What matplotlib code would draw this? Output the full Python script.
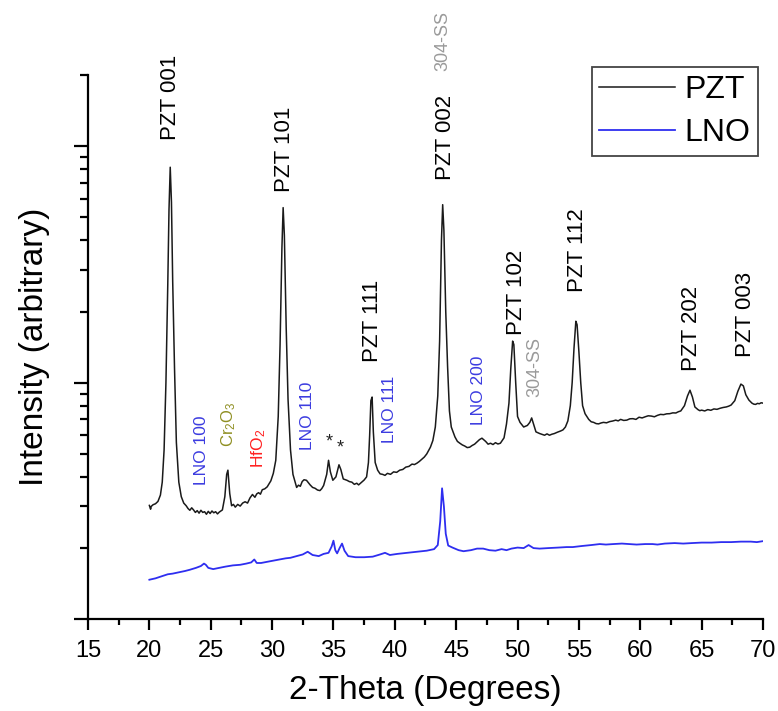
import matplotlib
matplotlib.use("Agg")
import matplotlib.pyplot as plt
from matplotlib.ticker import MultipleLocator, LogLocator, NullFormatter

plt.rcParams['font.family'] = ['Liberation Sans', 'DejaVu Sans']
plt.rcParams['mathtext.fontset'] = 'custom'
plt.rcParams['mathtext.rm'] = 'Liberation Sans'
plt.rcParams['mathtext.it'] = 'Liberation Sans'

# PZT film pattern (2-theta, intensity)
pzt_theta = [20.0, 20.1, 20.15, 20.3, 20.5, 20.7, 20.9, 21.05, 21.2, 21.35, 21.5, 21.6, 21.7,
             21.8, 21.9, 22.05, 22.2, 22.4, 22.6, 22.8, 23.0, 23.15, 23.3, 23.45, 23.6, 23.75,
             23.9, 24.05, 24.2, 24.35, 24.5, 24.65, 24.8, 24.95, 25.1, 25.25, 25.4, 25.55,
             25.7, 25.95, 26.15, 26.3, 26.4, 26.55, 26.7, 26.85, 27.0, 27.2,
             27.4, 27.6, 27.8, 28.0, 28.2, 28.4, 28.6, 28.75, 28.9, 29.05, 29.2, 29.4, 29.6,
             29.9, 30.1, 30.3, 30.5,
             30.65, 30.8, 30.9, 31.0, 31.15, 31.3, 31.5, 31.7, 32.0, 32.15, 32.3, 32.45, 32.6,
             32.8, 33.0, 33.1, 33.3, 33.5, 33.7, 33.9, 34.05, 34.2, 34.45, 34.6, 34.75, 34.95,
             35.2, 35.45, 35.6, 35.8,
             36.1, 36.3, 36.5, 36.7, 36.9, 37.05, 37.2, 37.5, 37.7, 37.85, 37.95, 38.05,
             38.15, 38.25, 38.4, 38.6, 38.8, 39.0, 39.2, 39.4, 39.65, 39.9, 40.15, 40.4,
             40.65, 40.9, 41.15, 41.4, 41.6, 41.8, 42.0, 42.2, 42.4, 42.6, 42.9, 43.1,
             43.3, 43.5, 43.65, 43.8, 43.9, 44.0, 44.15, 44.3, 44.45, 44.6, 44.9, 45.1,
             45.3, 45.5, 45.7, 45.9, 46.1, 46.3, 46.5, 46.7, 46.9, 47.1, 47.4, 47.6, 47.8,
             48.0, 48.2, 48.4, 48.6, 48.9, 49.1, 49.3,
             49.45, 49.6, 49.7, 49.85, 50.0, 50.2, 50.5, 50.8, 51.0, 51.15, 51.3, 51.5,
             51.8, 52.0, 52.2, 52.4, 52.6, 52.8, 53.0, 53.25, 53.5, 53.7, 53.9, 54.1,
             54.3, 54.45, 54.6, 54.75, 54.85,
             55.0, 55.15, 55.3, 55.5, 55.8, 56.0, 56.2, 56.4, 56.6, 56.8, 57.0, 57.25,
             57.5, 57.75, 58.0, 58.2, 58.4, 58.65, 58.9, 59.15,
             59.4, 59.65, 59.9, 60.15, 60.4, 60.65, 60.9, 61.15, 61.4, 61.65, 61.9, 62.15,
             62.4, 62.65, 62.9, 63.1, 63.3, 63.6, 63.85, 64.05,
             64.25, 64.45, 64.7, 64.85, 65.0, 65.25, 65.5, 65.75, 66.0, 66.25, 66.5, 66.75,
             67.0, 67.2, 67.4, 67.7, 67.95, 68.2,
             68.4, 68.6, 68.85, 69.1, 69.25, 69.4, 69.55, 69.7, 69.85, 70.0]
pzt_int = [30.3, 29.2, 30.0, 30.5, 30.8, 31.5, 33.5, 38, 52, 100, 260, 540, 815,
           580, 270, 115, 56, 38, 33, 31, 30.2, 29.4, 28.9, 29.6, 29.0, 28.3,
           28.8, 28.1, 28.9, 28.3, 28.5, 27.8, 28.6, 28.0, 28.7, 28.2, 28.5, 27.9,
           28.4, 29.0, 33, 41, 42.7, 34, 30.2, 30.6, 29.8, 30.6,
           30.1, 31.0, 31.4, 31.0, 32.6, 33.7, 32.8, 33.9, 34.3, 33.8, 35.3, 35.6, 36.3,
           38.5, 41.4, 47, 72,
           145, 370, 550, 420, 170, 85, 52, 41, 36.1, 36.9, 36.5, 38.2, 38.9,
           38.7, 37.6, 37.0, 36.1, 35.8, 35.2, 35.0, 35.7, 36.8, 41, 47, 42, 38.7,
           40.0, 45.0, 43, 39.2,
           38.7, 38.2, 38.0, 37.2, 37.6, 37.0, 37.6, 38.8, 40.0, 46, 60, 84,
           87, 62, 46, 42.7, 41.2, 41.0, 40.6, 41.4, 41.0, 42.0, 41.8, 42.7,
           43.0, 44.0, 44.3, 45.3, 45.1, 45.7, 46.5, 47.5, 48.5, 50, 53.4, 57,
           65, 88, 150, 400, 566, 440, 200, 117, 76, 65, 59, 56.5,
           55.5, 54.6, 54.0, 53.2, 53.4, 54.3, 55.0, 56.2, 57.5, 58.3, 56.5, 55.0, 55.5,
           54.8, 55.8, 55.1, 55.5, 58.5, 67, 82,
           115, 150, 145, 100, 72, 68, 65, 66, 68, 71, 67, 62,
           61, 60.5, 60, 60.8, 60, 60.6, 61, 61.8, 62.5, 63.2, 65, 69,
           80, 100, 140, 182, 176,
           135, 100, 80, 74, 70, 68.4, 68, 67.2, 67, 67.6, 68, 67.7,
           68.5, 68.9, 69.5, 69.0, 70, 69.3, 69.5, 70.4,
           70.5, 70.0, 71.5, 71.0, 71.8, 72.5, 72.3, 71.8, 72.8, 73.5, 73.3, 73.9,
           74.0, 74.6, 74.5, 75.4, 76, 80, 88, 93,
           87, 79, 77, 76.2, 76.6, 76.0, 77, 76.5, 77.5, 77.2, 78, 78.6,
           79, 79.6, 80.5, 84, 92, 98.7,
           97, 89, 84.5, 82, 81.2, 81, 81.8, 81.5, 82.3, 82]

# LNO bottom electrode pattern (2-theta, intensity)
lno_theta = [20.0, 20.5, 21.0, 21.5, 21.9, 22.4, 22.9, 23.3, 23.8, 24.2, 24.45, 24.6,
             24.8, 25.2, 25.7, 26.2, 26.8, 27.4, 27.9, 28.3, 28.55, 28.75, 29.1, 29.6,
             30.1, 30.6, 31.1, 31.5, 32.0, 32.5, 32.9, 33.3, 33.8, 34.2, 34.6, 34.85,
             35.0, 35.15, 35.3, 35.5, 35.7, 35.9, 36.2, 36.8, 37.5, 38.2, 38.8, 39.2,
             39.6, 40.2, 41.0, 41.8, 42.6, 43.2, 43.5, 43.7, 43.85, 44.0, 44.15, 44.35,
             44.7, 45.2, 45.6, 46.2, 46.7, 47.2, 47.7, 48.2, 48.7, 49.1, 49.5, 50.0,
             50.5, 50.9, 51.3, 51.8, 52.5, 53.3, 54.0, 54.5, 55.2, 56.0, 56.7, 57.2,
             57.8, 58.5, 59.1, 59.7, 60.4, 61.0, 61.4, 62.0, 62.8, 63.5, 64.2, 65.0,
             65.8, 66.6, 67.4, 68.2, 69.0, 69.5, 70.0]
lno_int = [14.7, 14.9, 15.2, 15.5, 15.6, 15.8, 16.0, 16.2, 16.5, 16.8, 17.2, 17.0,
           16.5, 16.3, 16.5, 16.7, 16.9, 17.0, 17.2, 17.4, 17.9, 17.3, 17.3, 17.5,
           17.7, 17.9, 18.1, 18.2, 18.5, 18.8, 19.3, 18.7, 18.5, 18.9, 19.1, 20.3,
           21.5, 19.6, 19.0, 20.0, 20.9, 19.5, 18.5, 18.3, 18.3, 18.4, 18.8, 19.1,
           18.7, 18.9, 19.1, 19.3, 19.5, 19.8, 20.6, 26, 35.8, 30, 23, 20.5,
           20.1, 19.6, 19.4, 19.6, 19.9, 19.9, 19.6, 19.5, 19.8, 19.6, 19.9, 20.1,
           20.0, 20.6, 20.0, 19.9, 20.0, 20.1, 20.2, 20.2, 20.4, 20.6, 20.8, 20.7,
           20.8, 20.9, 20.8, 20.7, 20.8, 20.8, 20.7, 20.9, 21.0, 20.9, 21.0, 21.1,
           21.1, 21.2, 21.2, 21.3, 21.3, 21.2, 21.4]

# peak labels: text, 2-theta, bottom of label (intensity), colour, size
labels = [("PZT 001", 21.75, 1067, "black", 16),
          ("PZT 101", 31.05, 643, "black", 16),
          ("PZT 111", 38.2, 122, "black", 16),
          ("PZT 002", 44.1, 722, "black", 16),
          ("PZT 102", 49.95, 159, "black", 16),
          ("PZT 112", 54.85, 242, "black", 16),
          ("PZT 202", 64.2, 112, "black", 16),
          ("PZT 003", 68.55, 128, "black", 16),
          ("304-SS", 43.95, 2070, "#9a9a9a", 13),
          ("304-SS", 51.45, 87, "#9a9a9a", 13),
          ("LNO 100", 24.25, 36.8, "#3c3ce0", 12.5),
          (r"Cr$_2$O$_3$", 26.5, 53.4, "#8f8f22", 12),
          (r"HfO$_2$", 28.9, 43.5, "#ff2020", 12.5),
          ("LNO 110", 32.85, 51.9, "#3c3ce0", 12.5),
          ("LNO 111", 39.6, 55.5, "#3c3ce0", 12.5),
          ("LNO 200", 46.8, 66.2, "#3c3ce0", 12.5)]
stars = [(34.65, 56), (35.55, 53)]

fig = plt.figure(figsize=(7.78, 7.11), dpi=100)
ax = fig.add_axes([88 / 778, 1 - 619.3 / 711, 675 / 778, 544.3 / 711])

ax.plot(pzt_theta, pzt_int, color="#1a1a1a", lw=1.1, label="PZT")
ax.plot(lno_theta, lno_int, color="#2e2ef0", lw=1.3, label="LNO")

ax.set_yscale("log")
ax.set_xlim(15, 70)
ax.set_ylim(10, 2000)
ax.xaxis.set_major_locator(MultipleLocator(5))
ax.xaxis.set_minor_locator(MultipleLocator(2.5))
ax.yaxis.set_major_locator(LogLocator(base=10))
ax.yaxis.set_minor_locator(LogLocator(base=10, subs=range(2, 10)))
ax.yaxis.set_major_formatter(NullFormatter())
ax.yaxis.set_minor_formatter(NullFormatter())

for s in ["top", "right"]:
    ax.spines[s].set_visible(False)
for s in ["left", "bottom"]:
    ax.spines[s].set_linewidth(1.6)

ax.tick_params(axis="both", which="major", direction="out", width=1.6, length=8,
               labelsize=17, pad=7)
ax.tick_params(axis="both", which="minor", direction="out", width=1.6, length=4.5)
ax.tick_params(axis="y", which="major", length=10)
ax.tick_params(axis="y", which="minor", length=6)

ax.set_xlabel("2-Theta (Degrees)", fontsize=24, labelpad=9)
ax.set_ylabel("Intensity (arbitrary)", fontsize=24)
ax.yaxis.set_label_coords(-0.057, 0.5)

for txt, x, y, c, fs in labels:
    ax.text(x, y, txt, rotation=90, ha="center", va="bottom", color=c,
            fontsize=fs, clip_on=False)
for x, y in stars:
    ax.text(x, y, "*", ha="center", va="center", fontsize=13, color="#222222")

leg = ax.legend(loc="upper right", bbox_to_anchor=(0.9926, 1.0147), borderaxespad=0,
                fontsize=23, handlelength=2.35, handletextpad=0.3, labelspacing=0.42,
                borderpad=0.25, fancybox=False, framealpha=1)
leg.get_frame().set_edgecolor("#444444")
leg.get_frame().set_linewidth(1.3)

fig.savefig("out.png", dpi=100)
